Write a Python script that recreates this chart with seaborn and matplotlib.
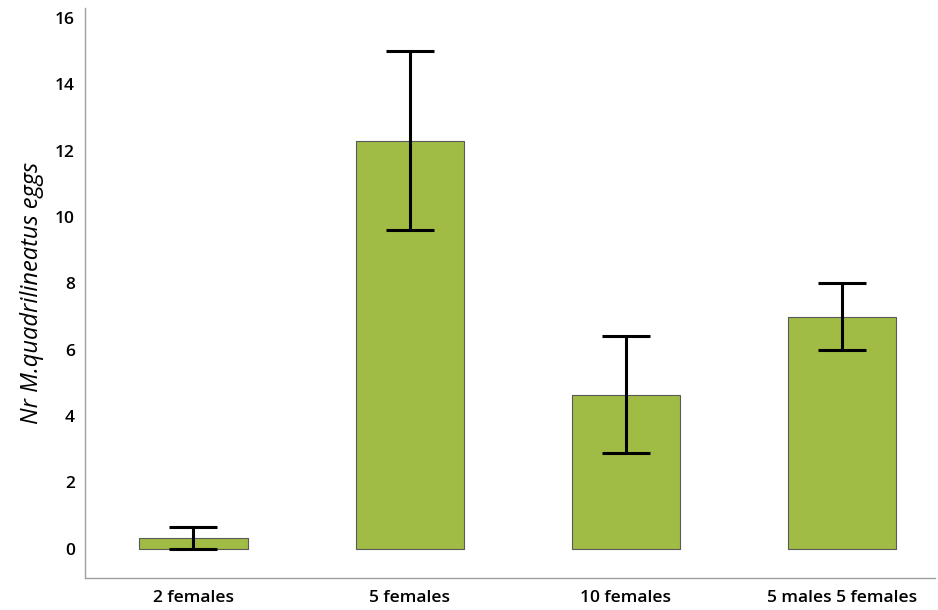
import numpy as np
import pandas as pd
import matplotlib
matplotlib.use('Agg')
import matplotlib.pyplot as plt
import seaborn as sns

groups = ['2 females', '5 females', '10 females', '5 males 5 females']
means = [0.33, 12.3, 4.65, 7.0]
errors = [0.33, 2.7, 1.77, 1.0]

sns.set_style('white')
plt.rcParams['font.family'] = ['Open Sans', 'DejaVu Sans']
plt.rcParams['text.color'] = 'black'
plt.rcParams['axes.labelcolor'] = 'black'
plt.rcParams['xtick.labelcolor'] = 'black'
plt.rcParams['ytick.labelcolor'] = 'black'

df = pd.DataFrame({'group': groups, 'eggs': means})

fig, ax = plt.subplots(figsize=(9.38, 6.10), dpi=100)
sns.barplot(data=df, x='group', y='eggs', color='#A0BC44', saturation=1,
            width=0.5, edgecolor='#5a5a5a', linewidth=0.8, ax=ax)
ax.errorbar(np.arange(len(groups)), means, yerr=errors, fmt='none',
            ecolor='black', elinewidth=2.2, capsize=17.5, capthick=2.2)

ax.set_ylim(-0.87, 16.3)
ax.set_xlim(-0.5, 3.43)
ax.set_yticks(range(0, 17, 2))
ax.set_xlabel('')
ax.set_ylabel('Nr M.quadrilineatus eggs', fontsize=17, style='italic', labelpad=8)
ax.tick_params(axis='both', labelsize=12.5, length=4, color='#a0a0a0', direction='out')
ax.tick_params(axis='x', pad=5)
for lab in ax.get_xticklabels() + ax.get_yticklabels():
    lab.set_fontweight('semibold')
for s in ['top', 'right']:
    ax.spines[s].set_visible(False)
for s in ['left', 'bottom']:
    ax.spines[s].set_color('#a0a0a0')
    ax.spines[s].set_linewidth(1)

plt.subplots_adjust(left=0.091, right=0.997, top=0.987, bottom=0.053)
fig.savefig('out.png', dpi=100)
